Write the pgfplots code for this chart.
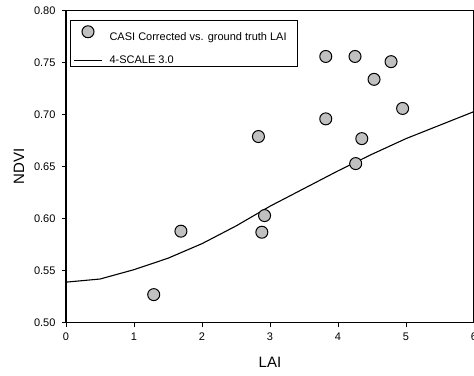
\documentclass[border=0pt]{standalone}
\usepackage{pgfplots}
\pgfplotsset{compat=1.18}
\usepackage{fontspec}
\setmainfont{Liberation Sans}
\definecolor{markgray}{RGB}{192,192,192}
\pgfplotsset{
  markleg/.style={legend image code/.code={\draw[##1] plot coordinates {(14pt,0pt)};}},
  lineleg/.style={legend image code/.code={\draw[##1] (0pt,0pt) -- (28pt,0pt);}},
}
\begin{document}
\begin{tikzpicture}
\begin{axis}[
  scale only axis,
  width=408pt, height=312pt,
  xmin=0, xmax=6, ymin=0.5, ymax=0.8,
  xtick={0,1,2,3,4,5,6},
  ytick={0.50,0.55,0.60,0.65,0.70,0.75,0.80},
  /pgf/number format/assume math mode=true,
  yticklabel style={/pgf/number format/fixed,/pgf/number format/fixed zerofill,/pgf/number format/precision=2,xshift=-2.5pt},
  xticklabel style={yshift=-2.5pt},
  tick label style={font=\fontsize{11}{13}\selectfont},
  xtick pos=left, ytick pos=left,
  tick align=outside,
  major tick length=4.5pt,
  axis line style={line width=1.1pt},
  every tick/.style={black,line width=0.9pt},
  xlabel={LAI}, ylabel={NDVI},
  every axis x label/.style={at={(axis description cs:0.5,-0.145)},anchor=base,font=\fontsize{15}{17}\selectfont},
  every axis y label/.style={at={(axis description cs:-0.115,0.5)},anchor=center,rotate=90,font=\fontsize{15}{17}\selectfont},
  legend style={at={(axis description cs:0.0098,0.970)},anchor=north west,
    font=\fontsize{11}{13}\selectfont, draw=black, line width=0.9pt,
    inner xsep=3pt, inner ysep=0.5pt, row sep=12pt,
    nodes={inner ysep=1pt},
    /tikz/every odd column/.append style={column sep=5pt}},
  legend cell align=left,
  clip=false,
]
\addplot[only marks, mark=*, mark size=6pt, mark options={fill=markgray,draw=black,line width=1pt}, markleg]
coordinates {
(3.82,0.756) (4.25,0.756) (4.78,0.751) (4.53,0.734) (4.95,0.706) (3.82,0.696)
(2.83,0.679) (4.35,0.677) (4.26,0.653) (2.92,0.603) (2.88,0.587) (1.69,0.588)
(1.29,0.527)
};
\addlegendentry{\rule{0pt}{18pt}CASI Corrected vs. ground truth LAI\hspace*{6pt}}
\addplot[black, line width=1.1pt, mark=none, lineleg]
coordinates {
(0,0.539) (0.5,0.542) (1,0.551) (1.5,0.562) (2,0.576) (2.5,0.593) (3,0.612)
(3.5,0.629) (4,0.646) (4.5,0.662) (5,0.677) (5.5,0.690) (6,0.703)
};
\addlegendentry{4-SCALE 3.0}
\end{axis}
\pgfresetboundingbox
\path ([shift={(-66pt,-52.3pt)}]current axis.south west) rectangle ([shift={(0pt,10.7pt)}]current axis.north east);
\end{tikzpicture}
\end{document}
